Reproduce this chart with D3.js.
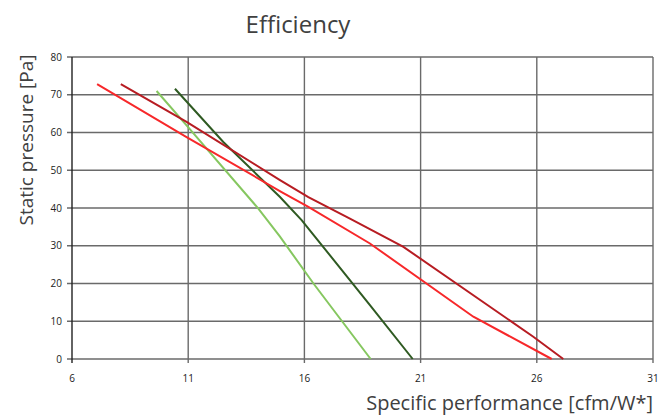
<!DOCTYPE html>
<html>
<head>
<meta charset="utf-8">
<script src="https://cdn.jsdelivr.net/npm/d3@7"></script>
<style>
  body { margin: 0; background: #fff; }
  svg text { font-family: "Open Sans", "Noto Sans", sans-serif; }
</style>
</head>
<body>
<svg width="666" height="419"></svg>
<script>
// tick values
let x_ticks = [6, 11, 16, 21, 26, 31]
let y_ticks = [0, 10, 20, 30, 40, 50, 60, 70, 80]

// series: [cfm/W, Pa]
let bright_red = [[7.08, 72.8], [10.93, 58.8], [15.0, 44.3], [16.17, 40.3], [18.82, 30.6], [23.27, 11.2], [26.64, 0]]
let dark_red = [[8.1, 72.8], [10.93, 62.8], [14.95, 47.4], [16.17, 42.9], [17.96, 37.2], [20.26, 29.7], [25.85, 5.9], [27.14, 0]]
let dark_green = [[10.43, 71.6], [12.51, 57.5], [14.95, 42.9], [15.88, 36.8], [18.82, 14.3], [20.66, 0]]
let light_green = [[9.64, 71.0], [10.93, 61.9], [14.01, 39.9], [14.95, 32.4], [16.39, 20.0], [18.85, 0]]

let series = [
  {name: "light_green", values: light_green, color: "#86c760"},
  {name: "dark_green", values: dark_green, color: "#2f5a22"},
  {name: "bright_red", values: bright_red, color: "#f7282a"},
  {name: "dark_red", values: dark_red, color: "#b71c22"}
]

// d3 v7 has no .attrs, add a small helper
d3.selection.prototype.attrs = function(obj) {
  for (let k in obj) this.attr(k, obj[k])
  return this
}

function make_scales() {
  return {
    x: d3.scaleLinear().domain([6, 31]).range([72, 653]),
    y: d3.scaleLinear().domain([0, 80]).range([359, 57])
  }
}

function draw() {
  let svg = d3.select("svg")
  let scales = make_scales()

  // grid
  svg.append("g")
    .selectAll("line")
    .data(y_ticks).enter()
    .append("line")
    .attrs({
      x1: scales.x(6) - 5, x2: scales.x(31),
      y1: d => scales.y(d), y2: d => scales.y(d),
      stroke: "#6a6a6a", "stroke-width": 1.4
    })
  svg.append("g")
    .selectAll("line")
    .data(x_ticks).enter()
    .append("line")
    .attrs({
      x1: d => scales.x(d), x2: d => scales.x(d),
      y1: scales.y(80), y2: scales.y(0) + 4,
      stroke: d => d == 6 ? "#222" : "#6a6a6a", "stroke-width": 1.4
    })

  // tick labels
  svg.append("g")
    .selectAll("text")
    .data(y_ticks).enter()
    .append("text")
    .attrs({
      x: scales.x(6) - 10, y: d => scales.y(d) + 3.5,
      "text-anchor": "end", "font-size": 10, fill: "#222"
    })
    .text(d => d)
  svg.append("g")
    .selectAll("text")
    .data(x_ticks).enter()
    .append("text")
    .attrs({
      x: d => scales.x(d), y: 382,
      "text-anchor": "middle", "font-size": 10, fill: "#222"
    })
    .text(d => d)

  // curves
  let line = d3.line()
    .x(d => scales.x(d[0]))
    .y(d => scales.y(d[1]))
  svg.append("g")
    .selectAll("path")
    .data(series).enter()
    .append("path")
    .attrs({
      d: d => line(d.values),
      fill: "none",
      stroke: d => d.color,
      "stroke-width": 2
    })

  // titles
  svg.append("text")
    .attrs({x: 298, y: 33, "text-anchor": "middle", "font-size": 24, fill: "#404040"})
    .text("Efficiency")
  svg.append("text")
    .attrs({x: 653, y: 410, "text-anchor": "end", "font-size": 20, fill: "#404040"})
    .text("Specific performance [cfm/W*]")
  svg.append("text")
    .attrs({transform: "translate(33,140) rotate(-90)", "text-anchor": "middle", "font-size": 19, fill: "#404040"})
    .text("Static pressure [Pa]")
}

draw()
</script>
</body>
</html>
